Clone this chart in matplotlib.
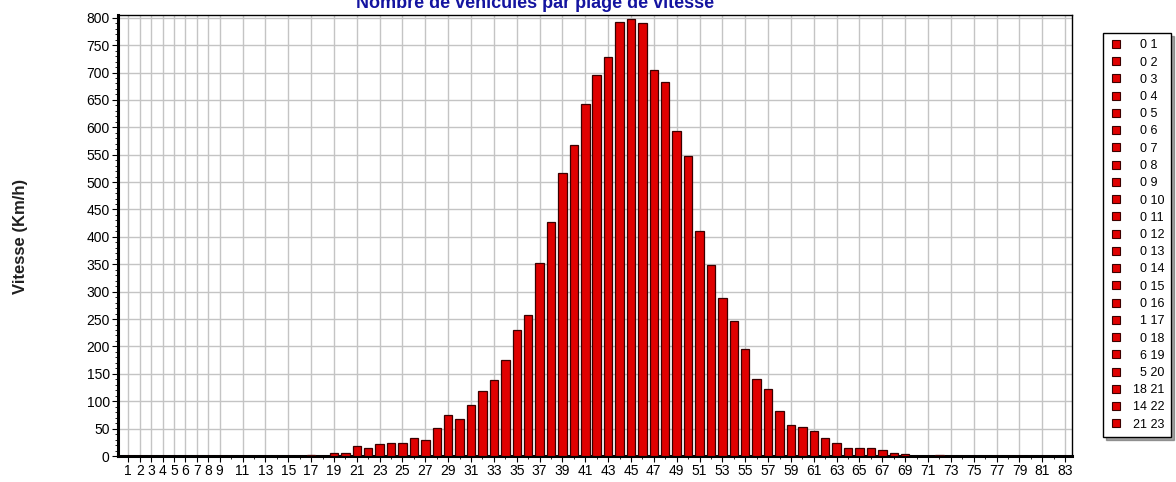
import matplotlib
matplotlib.use("Agg")
import numpy as np
import matplotlib.pyplot as plt
from matplotlib.lines import Line2D
from matplotlib.ticker import MultipleLocator, FixedLocator

plt.rcParams['font.family'] = ['Liberation Sans', 'DejaVu Sans']

# speed class (km/h) and number of vehicles
vitesse = list(range(1, 84))
nb_vehicules = [0, 0, 0, 0, 0, 0, 0, 0, 0, 0,
                0, 0, 0, 0, 0, 0, 1, 0, 6, 5,
                18, 14, 21, 24, 24, 32, 29, 51, 74, 68,
                94, 118, 138, 175, 230, 257, 352, 428, 516, 568,
                642, 696, 728, 793, 798, 791, 704, 682, 593, 547,
                410, 348, 289, 247, 195, 140, 123, 83, 56, 53,
                46, 33, 24, 14, 14, 14, 11, 6, 3, 0,
                0, 2, 0, 0, 0, 0, 0, 0, 0, 0,
                0, 0, 0]
tick_labels = [1, 2, 3, 4, 5, 6, 7, 8, 9] + list(range(11, 84, 2))
n_legend = 23

bar_red = '#e00000'
bar_edge = '#3a0000'

fig = plt.figure(figsize=(11.76, 4.82), dpi=100)
ax = fig.add_axes([118/1176, 1 - 456/482, (1072-118)/1176, (456-15)/482])

ax.bar(vitesse, nb_vehicules, width=0.74, color=bar_red, edgecolor=bar_edge,
       linewidth=0.9, zorder=3)

ax.set_xlim(0.1, 83.6)
ax.set_ylim(0, 805)
ax.yaxis.set_major_locator(MultipleLocator(50))
ax.yaxis.set_minor_locator(MultipleLocator(10))
ax.xaxis.set_major_locator(FixedLocator(tick_labels))
ax.xaxis.set_minor_locator(MultipleLocator(1))
ax.set_xticklabels([str(t) for t in tick_labels])

ax.grid(True, which='major', color='#c4c4c4', linewidth=1.0, zorder=0)
ax.set_axisbelow(True)
ax.tick_params(axis='both', which='major', labelsize=10, length=4, width=0.8, pad=2)
ax.tick_params(axis='both', which='minor', length=2, width=0.6)

for s in ['left', 'bottom']:
    ax.spines[s].set_linewidth(2.2)
for s in ['top', 'right']:
    ax.spines[s].set_linewidth(1.0)

fig.text(20/1176, 1 - 236/482, 'Vitesse (Km/h)', rotation=90, fontsize=12,
         fontweight='bold', ha='center', va='center', color='#202020')

# title sits partly outside the picture, as in the original
fig.text(535/1176, 1 - 8/482, 'Nombre de véhicules par plage de vitesse',
         fontsize=13, fontweight='bold', color='#1414a0', ha='center', va='baseline')

handles = [Line2D([], [], marker='s', linestyle='none', markersize=6,
                  markerfacecolor=bar_red, markeredgecolor=bar_edge, markeredgewidth=0.8)
           for _ in range(n_legend)]
labels = []
for v, c in zip(nb_vehicules[:n_legend], vitesse[:n_legend]):
    pad = '' if v >= 10 else '  '
    labels.append(f'{pad}{v} {c}')

leg = fig.legend(handles, labels, loc='upper left', bbox_to_anchor=(1103/1176, 1 - 33/482),
                 fontsize=9, frameon=True, fancybox=False, shadow=True,
                 handlelength=1.0, handletextpad=0.9, labelspacing=0.42,
                 borderpad=0.5, borderaxespad=0)
leg.get_frame().set_edgecolor('black')
leg.get_frame().set_linewidth(1.0)

fig.savefig('out.png', dpi=100)
